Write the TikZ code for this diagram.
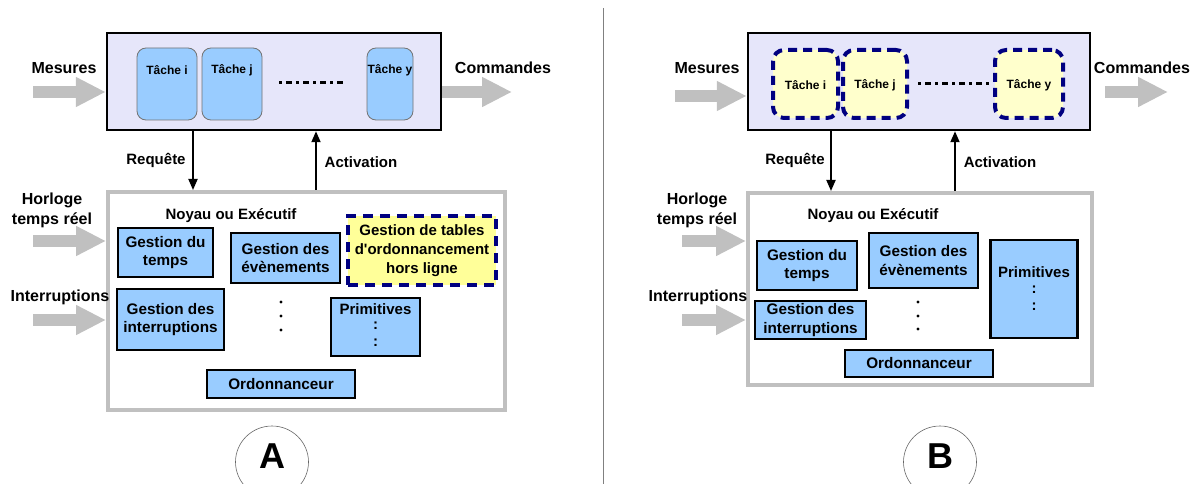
\documentclass[tikz,border=0pt]{standalone}
\usepackage{fontspec}
\setmainfont{Liberation Sans}[Ligatures=TeXOff]
\usetikzlibrary{arrows.meta,shapes.geometric}
\definecolor{lav}{HTML}{E6E6FA}
\definecolor{taskblue}{HTML}{99CCFF}
\definecolor{boxblue}{HTML}{99CCFF}
\definecolor{pale}{HTML}{FFFFCC}
\definecolor{yel}{HTML}{FFFF99}
\definecolor{navy}{HTML}{000080}
\definecolor{kgray}{HTML}{C0C0C0}
\definecolor{agray}{HTML}{C0C0C0}
\begin{document}
\begin{tikzpicture}[x=1pt,y=-1pt,
  every node/.style={inner sep=0pt,font=\bfseries},
  topbox/.style={draw=black,line width=2.5pt,fill=lav},
  taskA/.style={draw=black!55,line width=0.8pt,fill=taskblue,rounded corners=9pt},
  taskB/.style={draw=navy,line width=4pt,dash pattern=on 9pt off 6pt,fill=pale,rounded corners=11pt},
  kernel/.style={draw=kgray,line width=4pt,fill=white},
  gbox/.style={draw=black,line width=2.5pt,fill=boxblue,align=center,font=\bfseries\fontsize{15.3}{18.5}\selectfont},
  tbl/.style={draw=navy,line width=4pt,dash pattern=on 10pt off 7pt,fill=yel,align=center,font=\bfseries\fontsize{15}{19}\selectfont},
  lbl/.style={align=center,font=\bfseries\fontsize{16}{20}\selectfont},
  small/.style={font=\bfseries\fontsize{12}{14}\selectfont},
  mid/.style={font=\bfseries\fontsize{15}{17}\selectfont},
  big/.style={draw=agray,line width=12pt,-{Triangle[length=30pt,width=28pt]}},
  link/.style={draw=black,line width=1.8pt,-{Triangle[length=11pt,width=9pt]}},
  dots/.style={draw=black,line width=3pt,dash pattern=on 3pt off 4pt on 6pt off 4pt},
  colon/.style={font=\bfseries\fontsize{15}{17}\selectfont},
  letter/.style={ellipse,draw=black!60,line width=0.6pt,minimum width=73pt,minimum height=72pt},
  letterA/.style={font=\bfseries\fontsize{36}{38}\selectfont}
]
\useasboundingbox (0,0) rectangle (1200,484);

% divider
\draw[black!50,line width=0.8pt] (603,8) -- (603,484);

% ================= PANEL A =================
\node[topbox,minimum width=334pt,minimum height=97pt] (topA) at (274,81.5) {};
\node[taskA,minimum width=60pt,minimum height=72pt] (tiA) at (167,84) {};
\node[small] (tiAl) at (167,70) {Tâche i};
\node[taskA,minimum width=60pt,minimum height=72pt] (tjA) at (232,84) {};
\node[small] (tjAl) at (232,70) {Tâche j};
\node[taskA,minimum width=46pt,minimum height=72pt] (tyA) at (390,84) {};
\node[small] (tyAl) at (390,70) {Tâche y};
\coordinate (dA1) at (279,83);
\coordinate (dA2) at (346,83);
\draw[dots] (dA1) -- (dA2);

\node[lbl] (mesA) at (64,68) {Mesures};
\coordinate (mesAs) at (33,92);
\draw[big] (mesAs) -- (mesAs -| topA.west);
\node[lbl] (comA) at (503,68) {Commandes};
\coordinate (comAe) at (512,92);
\draw[big] (comAe -| topA.east) -- (comAe);

\node[kernel,minimum width=397pt,minimum height=218pt] (kerA) at (306.5,301) {};

\coordinate (rqA) at (193,0);
\draw[link] (topA.south -| rqA) -- (kerA.north -| rqA);
\node[mid] (rqAl) at (156,160) {Requête};
\coordinate (acA) at (316,0);
\draw[link] (kerA.north -| acA) -- (topA.south -| acA);
\node[mid] (acAl) at (361,162) {Activation};

\node[mid] (noyA) at (231,216) {Noyau ou Exécutif};
\node[gbox,minimum width=95pt,minimum height=49pt] (gtA) at (165.5,252.5) {Gestion du\\temps};
\node[gbox,minimum width=109pt,minimum height=50pt] (geA) at (285.5,258) {Gestion des\\évènements};
\node[tbl,minimum width=148pt,minimum height=69pt] (tbA) at (422,250.5) {Gestion de tables\\d'ordonnancement\\hors ligne};
\node[gbox,minimum width=107pt,minimum height=61pt] (giA) at (170.5,319.5) {Gestion des\\interruptions};
\fill (281,302) circle (1.6pt) (281,316) circle (1.6pt) (281,330) circle (1.6pt);
\node[gbox,minimum width=89pt,minimum height=58pt] (prA) at (375.5,327) {};
\node[mid] (prAl) at (375.5,309) {Primitives};
\node[colon] (prAc1) at (375.5,326) {:};
\node[colon] (prAc2) at (375.5,343) {:};
\node[gbox,minimum width=148pt,minimum height=28pt] (orA) at (281,384) {Ordonnanceur};

\node[lbl] (hoA) at (52,210) {Horloge\\temps réel};
\coordinate (hoAs) at (33,241);
\draw[big] (hoAs) -- (hoAs -| kerA.west);
\node[lbl] (inA) at (60,297) {Interruptions};
\coordinate (inAs) at (33,320);
\draw[big] (inAs) -- (inAs -| kerA.west);

\node[letter] (cA) at (272,462) {};
\node[letterA] (cAl) at (272,456) {A};

% ================= PANEL B =================
\node[topbox,minimum width=342pt,minimum height=97pt] (topB) at (919,81.5) {};
\node[taskB,minimum width=65pt,minimum height=68pt] (tiB) at (805.5,84) {};
\node[small] (tiBl) at (805.5,85) {Tâche i};
\node[taskB,minimum width=64pt,minimum height=68pt] (tjB) at (875,84) {};
\node[small] (tjBl) at (875,85) {Tâche j};
\node[taskB,minimum width=68pt,minimum height=68pt] (tyB) at (1029,84) {};
\node[small] (tyBl) at (1029,85) {Tâche y};
\coordinate (dB1) at (918,84);
\coordinate (dB2) at (990,84);
\draw[dots] (dB1) -- (dB2);

\node[lbl] (mesB) at (707,68) {Mesures};
\coordinate (mesBs) at (675,96);
\draw[big] (mesBs) -- (mesBs -| topB.west);
\node[lbl] (comB) at (1142,68) {Commandes};
\coordinate (comBs) at (1105,92);
\coordinate (comBe) at (1168,92);
\draw[big] (comBs) -- (comBe);

\node[kernel,minimum width=344pt,minimum height=192pt] (kerB) at (920,289) {};

\coordinate (rqB) at (831,0);
\draw[link] (topB.south -| rqB) -- (kerB.north -| rqB);
\node[mid] (rqBl) at (795,160) {Requête};
\coordinate (acB) at (955,0);
\draw[link] (kerB.north -| acB) -- (topB.south -| acB);
\node[mid] (acBl) at (1000,162) {Activation};

\node[mid] (noyB) at (873,216) {Noyau ou Exécutif};
\node[gbox,minimum width=100pt,minimum height=49pt] (gtB) at (807,265.5) {Gestion du\\temps};
\node[gbox,minimum width=109pt,minimum height=55pt] (geB) at (923.5,260.5) {Gestion des\\évènements};
\node[gbox,minimum width=87pt,minimum height=98pt] (prB) at (1034,289) {};
\node[mid] (prBl) at (1034,272) {Primitives};
\node[colon] (prBc1) at (1034,290) {:};
\node[colon] (prBc2) at (1034,307) {:};
\node[gbox,minimum width=111pt,minimum height=38pt] (giB) at (810.5,320) {Gestion des\\interruptions};
\fill (918,302) circle (1.6pt) (918,316) circle (1.6pt) (918,329) circle (1.6pt);
\node[gbox,minimum width=148pt,minimum height=27pt] (orB) at (919,363.5) {Ordonnanceur};

\node[lbl] (hoB) at (697,210) {Horloge\\temps réel};
\coordinate (hoBs) at (682,241);
\draw[big] (hoBs) -- (hoBs -| kerB.west);
\node[lbl] (inB) at (698,297) {Interruptions};
\coordinate (inBs) at (682,320);
\draw[big] (inBs) -- (inBs -| kerB.west);

\node[letter] (cB) at (940,462) {};
\node[letterA] (cBl) at (940,456) {B};
\end{tikzpicture}
\end{document}
